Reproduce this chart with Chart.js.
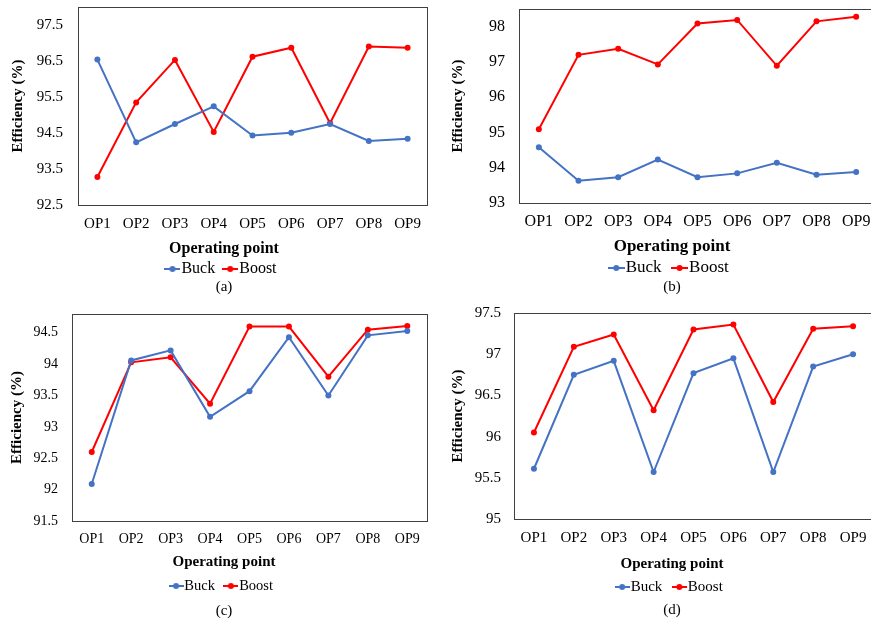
<!DOCTYPE html>
<html>
<head>
<meta charset="utf-8">
<script src="https://cdn.jsdelivr.net/npm/chart.js@4.4.1/dist/chart.umd.min.js"></script>
<style>
  html, body { margin: 0; padding: 0; background: #fff; overflow: hidden; width: 871px; height: 621px; }
  canvas { position: absolute; }
</style>
</head>
<body>
<canvas id="panelA" width="440" height="300" style="left:0px;top:0px"></canvas>
<canvas id="panelB" width="440" height="300" style="left:440px;top:0px"></canvas>
<canvas id="panelC" width="440" height="321" style="left:0px;top:300px"></canvas>
<canvas id="panelD" width="440" height="321" style="left:440px;top:300px"></canvas>
<script>
// Operating points shared by all four panels
const categories = ['OP1', 'OP2', 'OP3', 'OP4', 'OP5', 'OP6', 'OP7', 'OP8', 'OP9'];
const seriesNames = ['Buck', 'Boost'];

// Efficiency (%) per panel
const buckA  = [96.54, 94.24, 94.75, 95.24, 94.43, 94.51, 94.75, 94.28, 94.34];
const boostA = [93.28, 95.35, 96.53, 94.53, 96.62, 96.87, 94.77, 96.90, 96.87];
const buckB  = [94.58, 93.63, 93.73, 94.23, 93.73, 93.84, 94.14, 93.80, 93.88];
const boostB = [95.09, 97.20, 97.37, 96.93, 98.09, 98.19, 96.89, 98.15, 98.28];
const buckC  = [92.09, 94.06, 94.22, 93.16, 93.57, 94.43, 93.50, 94.46, 94.53];
const boostC = [92.60, 94.03, 94.11, 93.37, 94.60, 94.60, 93.80, 94.55, 94.61];
const buckD  = [95.61, 96.75, 96.92, 95.57, 96.77, 96.95, 95.57, 96.85, 97.00];
const boostD = [96.05, 97.09, 97.24, 96.32, 97.30, 97.36, 96.42, 97.31, 97.34];

// Y-axis tick labels per panel
const ticksA = [92.5, 93.5, 94.5, 95.5, 96.5, 97.5];
const ticksB = [93, 94, 95, 96, 97, 98];
const ticksC = [91.5, 92, 92.5, 93, 93.5, 94, 94.5];
const ticksD = [95, 95.5, 96, 96.5, 97, 97.5];

const captions = ['(a)', '(b)', '(c)', '(d)'];

const FAMILY = '"Liberation Serif", "Times New Roman", Times, serif';
const BLUE = '#4472C4';
const RED = '#FF0000';
const colors = [BLUE, RED];

// Line-with-dot swatch used as the legend marker
function legendMarker(color, w) {
  const c = document.createElement('canvas');
  c.width = w; c.height = 8;
  const g = c.getContext('2d');
  g.strokeStyle = color; g.lineWidth = 2;
  g.beginPath(); g.moveTo(0, 4); g.lineTo(w, 4); g.stroke();
  g.fillStyle = color;
  g.beginPath(); g.arc(w / 2, 4, 3, 0, Math.PI * 2); g.fill();
  return c;
}

// Box around the plot area
const framePlugin = {
  id: 'frame',
  beforeDatasetsDraw(chart, args, opts) {
    const { ctx, chartArea: a } = chart;
    ctx.save();
    ctx.strokeStyle = opts.color || '#404040';
    ctx.lineWidth = 1;
    ctx.strokeRect(Math.round(a.left) + 0.5, Math.round(a.top) + 0.5,
                   Math.round(a.right - a.left), Math.round(a.bottom - a.top));
    ctx.restore();
  }
};

const lh = s => s * 1.2;

function makePanel(id, p) {
  const canvas = document.getElementById(id);
  const W = canvas.width, H = canvas.height;
  const f = p.fonts;

  // horizontal layout
  const padL = 2 * p.centerX - p.area.right;
  const padR = W - p.area.right;
  const yAxisW = p.area.left - padL;
  const yTitlePadTop = p.yTitleX - padL - lh(f.yTitle) / 2;

  // vertical layout, stacked under the plot area
  const tickPad = p.xl - p.area.bottom - lh(f.tick) / 2;
  const xAxisH = p.xl - p.area.bottom + lh(f.tick) / 2;
  const titleTop = p.area.bottom + xAxisH;
  const titlePadTop = p.xt - titleTop - lh(f.xTitle) / 2;
  const legendTop = p.lg - p.legendPad - f.legend / 2;
  const titlePadBottom = legendTop - titleTop - titlePadTop - lh(f.xTitle);
  const legendBottom = legendTop + f.legend + p.legendPad + 10;
  const capPadTop = p.cp - legendBottom - lh(f.caption) / 2;
  const padB = H - (legendBottom + capPadTop + lh(f.caption));

  const markerW = Math.round(f.legend);
  const markers = colors.map(c => legendMarker(c, markerW));
  const baseLabels = Chart.defaults.plugins.legend.labels.generateLabels;

  const datasets = [p.buck, p.boost].map((vals, i) => ({
    label: seriesNames[i],
    data: vals,
    borderColor: colors[i],
    backgroundColor: colors[i],
    borderWidth: 2,
    pointRadius: 3,
    pointHoverRadius: 3,
    pointBackgroundColor: colors[i],
    pointBorderColor: colors[i],
    pointBorderWidth: 0,
    tension: 0
  }));

  return new Chart(canvas, {
    type: 'line',
    data: { labels: categories, datasets },
    plugins: [framePlugin],
    options: {
      responsive: false,
      animation: false,
      events: [],
      layout: { padding: { left: padL, right: padR, top: p.area.top, bottom: padB } },
      scales: {
        x: {
          type: 'category',
          offset: true,
          afterFit: s => { s.height = xAxisH; s.paddingLeft = 0; s.paddingRight = 0; },
          grid: { display: false, drawTicks: false },
          border: { display: false },
          ticks: { padding: tickPad, color: '#000', maxRotation: 0, autoSkip: false,
                   font: { family: FAMILY, size: f.tick } }
        },
        y: {
          type: 'linear',
          min: p.min,
          max: p.max,
          afterBuildTicks: s => { s.ticks = p.ticks.map(v => ({ value: v })); },
          afterFit: s => { s.width = yAxisW; s.paddingTop = 0; s.paddingBottom = 0; },
          grid: { display: false, drawTicks: false },
          border: { display: false },
          ticks: { padding: p.yTickGap, color: '#000', callback: v => String(v),
                   font: { family: FAMILY, size: f.tick } },
          title: { display: true, text: 'Efficiency (%)', color: '#000',
                   padding: { top: yTitlePadTop, bottom: 0 },
                   font: { family: FAMILY, size: f.yTitle, weight: 'bold' } }
        }
      },
      plugins: {
        frame: { color: '#404040' },
        tooltip: { enabled: false },
        title: {
          display: true, position: 'bottom', weight: 500,
          text: 'Operating point', color: '#000',
          padding: { top: titlePadTop, bottom: titlePadBottom },
          font: { family: FAMILY, size: f.xTitle, weight: 'bold' }
        },
        legend: {
          display: true, position: 'bottom', weight: 1000,
          labels: {
            usePointStyle: true,
            boxWidth: 2,
            padding: p.legendPad,
            color: '#000',
            font: { family: FAMILY, size: f.legend },
            generateLabels: chart => baseLabels(chart).map((it, i) => Object.assign(it, { pointStyle: markers[i] }))
          }
        },
        subtitle: {
          display: true, position: 'bottom', weight: 1500,
          text: p.caption, color: '#000',
          padding: { top: capPadTop, bottom: 0 },
          font: { family: FAMILY, size: f.caption, weight: 'normal' }
        }
      }
    }
  });
}

makePanel('panelA', {
  buck: buckA, boost: boostA, ticks: ticksA, min: 92.5, max: 98, caption: captions[0],
  area: { top: 7, bottom: 205, left: 78, right: 427 },
  centerX: 224, yTitleX: 18, yTickGap: 15, legendPad: 14,
  xl: 224, xt: 249, lg: 269, cp: 287,
  fonts: { tick: 15, xTitle: 16, yTitle: 15, legend: 16, caption: 15 }
});

makePanel('panelB', {
  buck: buckB, boost: boostB, ticks: ticksB, min: 93, max: 98.5, caption: captions[1],
  area: { top: 9, bottom: 203, left: 79, right: 436 },
  centerX: 232, yTitleX: 18, yTickGap: 14, legendPad: 17,
  xl: 222, xt: 247, lg: 268, cp: 287,
  fonts: { tick: 16, xTitle: 17, yTitle: 15, legend: 17, caption: 15 }
});

makePanel('panelC', {
  buck: buckC, boost: boostC, ticks: ticksC, min: 91.5, max: 94.8, caption: captions[2],
  area: { top: 14, bottom: 221, left: 72, right: 427 },
  centerX: 224, yTitleX: 17, yTickGap: 14, legendPad: 15,
  xl: 239, xt: 262, lg: 286, cp: 311,
  fonts: { tick: 14, xTitle: 15, yTitle: 15, legend: 14.5, caption: 15 }
});

makePanel('panelD', {
  buck: buckD, boost: boostD, ticks: ticksD, min: 95, max: 97.5, caption: captions[3],
  area: { top: 13, bottom: 219, left: 74, right: 433 },
  centerX: 232, yTitleX: 18, yTickGap: 13, legendPad: 16,
  xl: 238, xt: 264, lg: 287, cp: 310,
  fonts: { tick: 15, xTitle: 15, yTitle: 15, legend: 15, caption: 15 }
});
</script>
</body>
</html>
